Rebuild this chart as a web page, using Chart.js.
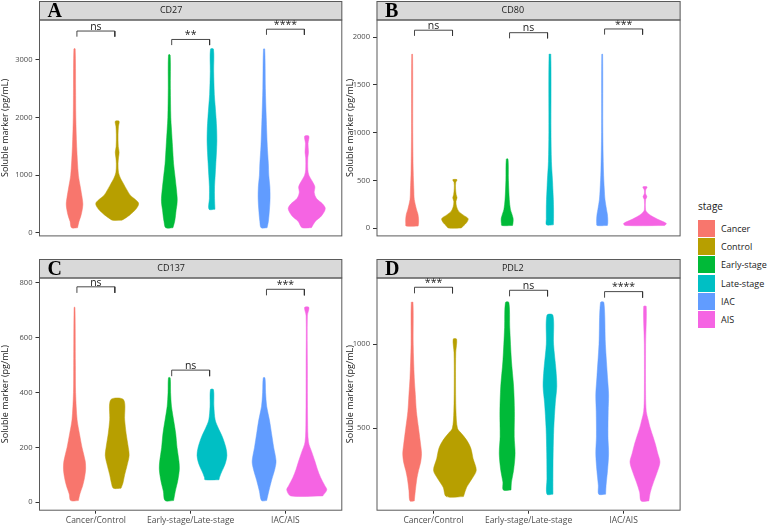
<!DOCTYPE html>
<html>
<head>
<meta charset="utf-8">
<script src="https://cdn.jsdelivr.net/npm/chart.js@4.4.1/dist/chart.umd.min.js"></script>
<style>
  body { margin: 0; background: #fff; width: 767px; height: 526px; position: relative; overflow: hidden; font-family: "Open Sans", sans-serif; }
  canvas { position: absolute; }
  #legend { position: absolute; left: 698px; top: 199px; color: #1a1a1a; }
  #legend .ttl { font-size: 10px; height: 20px; }
  #legend .row { height: 18.3px; display: flex; align-items: center; font-size: 9px; }
  #legend .key { width: 17px; height: 17px; margin-right: 6px; }
</style>
</head>
<body>
<canvas id="cA" width="345" height="256" style="left:0;top:0"></canvas>
<canvas id="cB" width="338" height="256" style="left:345px;top:0"></canvas>
<canvas id="cC" width="345" height="270" style="left:0;top:256px"></canvas>
<canvas id="cD" width="338" height="270" style="left:345px;top:256px"></canvas>
<div id="legend"></div>
<script>
"use strict";

// categories and groups
const categories = ["Cancer/Control", "Early-stage/Late-stage", "IAC/AIS"];
const stages = ["Cancer", "Control", "Early-stage", "Late-stage", "IAC", "AIS"];
const stageColors = ["#F8766D", "#B79F00", "#00BA38", "#00BFC4", "#619CFF", "#F564E3"];

// CD27 : violin outlines (value levels and relative half-widths), per stage
const cd27Y = [
  [90, 200, 300, 400, 500, 600, 800, 1000, 1500, 2000, 2500, 3190],
  [221, 260, 320, 400, 470, 520, 580, 650, 750, 850, 950, 1050, 1200, 1300, 1400, 1500, 1700, 1850, 1935],
  [90, 200, 300, 400, 500, 600, 800, 1000, 1200, 1500, 1800, 2000, 2500, 3084],
  [410, 600, 800, 1000, 1200, 1400, 1600, 1800, 2000, 2200, 2400, 2800, 3186],
  [90, 200, 400, 600, 800, 1000, 1200, 1500, 2000, 2500, 3186],
  [92, 200, 300, 420, 500, 600, 700, 800, 900, 1000, 1100, 1300, 1400, 1550, 1677]
];
const cd27W = [
  [0.14, 0.21, 0.30, 0.36, 0.39, 0.36, 0.27, 0.18, 0.10, 0.06, 0.05, 0.03],
  [0.22, 0.40, 0.62, 0.85, 0.98, 1.0, 0.85, 0.62, 0.45, 0.30, 0.15, 0.06, 0.04, 0.06, 0.09, 0.05, 0.04, 0.06, 0.09],
  [0.17, 0.25, 0.29, 0.32, 0.36, 0.37, 0.32, 0.26, 0.20, 0.15, 0.10, 0.07, 0.05, 0.04],
  [0.14, 0.12, 0.12, 0.15, 0.18, 0.21, 0.23, 0.22, 0.19, 0.15, 0.11, 0.08, 0.07],
  [0.14, 0.20, 0.25, 0.28, 0.27, 0.22, 0.20, 0.15, 0.10, 0.06, 0.03],
  [0.22, 0.40, 0.70, 0.87, 0.75, 0.45, 0.35, 0.38, 0.25, 0.10, 0.05, 0.05, 0.08, 0.06, 0.10]
];
const cd27Ticks = [0, 1000, 2000, 3000];
const cd27Sig = ["ns", "**", "****"];
const cd27SigY = [3499, 3353, 3531];

// CD80
const cd80Y = [
  [23, 50, 100, 150, 200, 300, 400, 600, 1000, 1820],
  [3, 30, 60, 100, 140, 176, 225, 280, 320, 350, 420, 480, 508],
  [29, 50, 100, 150, 200, 300, 500, 723],
  [36, 100, 200, 300, 400, 500, 700, 1000, 1820],
  [29, 50, 100, 150, 200, 300, 400, 600, 1000, 1820],
  [29, 50, 94, 130, 160, 190, 300, 330, 360, 400, 433]
];
const cd80W = [
  [0.28, 0.30, 0.30, 0.27, 0.20, 0.10, 0.08, 0.05, 0.03, 0.02],
  [0.30, 0.42, 0.55, 0.62, 0.38, 0.18, 0.08, 0.05, 0.10, 0.06, 0.03, 0.04, 0.10],
  [0.25, 0.27, 0.28, 0.22, 0.15, 0.10, 0.06, 0.04],
  [0.16, 0.17, 0.17, 0.16, 0.14, 0.12, 0.07, 0.05, 0.04],
  [0.24, 0.26, 0.26, 0.24, 0.20, 0.13, 0.10, 0.06, 0.03, 0.02],
  [0.92, 1.0, 0.60, 0.30, 0.12, 0.03, 0.03, 0.09, 0.03, 0.03, 0.10]
];
const cd80Ticks = [0, 500, 1000, 1500, 2000];
const cd80Sig = ["ns", "ns", "***"];
const cd80SigY = [2072, 2046, 2085];

// CD137
const cd137Y = [
  [6, 30, 60, 90, 120, 150, 200, 250, 300, 400, 500, 711],
  [51, 70, 100, 130, 170, 200, 250, 300, 374],
  [6, 40, 80, 120, 150, 200, 250, 300, 350, 400, 454],
  [82, 90, 110, 140, 170, 200, 240, 270, 300, 350, 411],
  [6, 40, 80, 120, 150, 200, 250, 300, 350, 400, 454],
  [23, 45, 60, 90, 120, 150, 180, 220, 300, 500, 680, 711]
];
const cd137W = [
  [0.18, 0.25, 0.38, 0.47, 0.52, 0.50, 0.35, 0.23, 0.12, 0.05, 0.04, 0.02],
  [0.18, 0.27, 0.35, 0.45, 0.56, 0.52, 0.42, 0.35, 0.30],
  [0.20, 0.28, 0.40, 0.47, 0.45, 0.36, 0.30, 0.20, 0.10, 0.06, 0.04],
  [0.33, 0.35, 0.45, 0.62, 0.70, 0.65, 0.48, 0.30, 0.15, 0.09, 0.07],
  [0.12, 0.22, 0.35, 0.50, 0.56, 0.45, 0.35, 0.25, 0.12, 0.07, 0.04],
  [0.75, 0.94, 0.85, 0.65, 0.50, 0.38, 0.25, 0.08, 0.04, 0.03, 0.03, 0.10]
];
const cd137Ticks = [0, 200, 400, 600, 800];
const cd137Sig = ["ns", "ns", "***"];
const cd137SigY = [786, 482, 777];

// PDL2
const pdl2Y = [
  [68, 130, 200, 250, 300, 350, 400, 500, 600, 700, 800, 1000, 1249],
  [94, 150, 200, 250, 320, 380, 430, 470, 500, 600, 800, 950, 1030],
  [133, 180, 250, 350, 450, 600, 750, 900, 1100, 1249],
  [108, 200, 350, 500, 650, 750, 850, 1000, 1173],
  [108, 160, 250, 350, 450, 600, 700, 800, 1000, 1249],
  [68, 120, 180, 250, 300, 350, 400, 450, 500, 550, 600, 700, 1000, 1225]
];
const pdl2W = [
  [0.10, 0.15, 0.22, 0.30, 0.40, 0.44, 0.40, 0.30, 0.20, 0.15, 0.10, 0.05, 0.04],
  [0.40, 0.55, 0.80, 1.0, 0.85, 0.75, 0.55, 0.30, 0.12, 0.05, 0.03, 0.04, 0.08],
  [0.18, 0.20, 0.30, 0.37, 0.33, 0.34, 0.30, 0.20, 0.12, 0.08],
  [0.14, 0.14, 0.15, 0.18, 0.25, 0.32, 0.28, 0.17, 0.14],
  [0.16, 0.18, 0.25, 0.30, 0.27, 0.28, 0.30, 0.25, 0.15, 0.08],
  [0.18, 0.25, 0.40, 0.60, 0.70, 0.60, 0.50, 0.38, 0.25, 0.15, 0.06, 0.03, 0.03, 0.06]
];
const pdl2Ticks = [500, 1000];
const pdl2Sig = ["***", "ns", "****"];
const pdl2SigY = [1339, 1321, 1313];

Chart.defaults.font.family = "'Open Sans', sans-serif";
Chart.defaults.animation = false;

const DODGE = 0.225;    // offset of each violin from its category
const HALF = 0.225;     // half-width of the widest violin, x units
const BRACKET = 0.2;

// panel layout
const panels = [
  { id: "cA", letter: "A", name: "CD27", Y: cd27Y, W: cd27W, ticks: cd27Ticks, sig: cd27Sig, sigY: cd27SigY,
    yMin: -60, yMax: 3699, axisW: 39, padR: 2.7, padB: 4.3, stripTop: 1, showX: false },
  { id: "cB", letter: "B", name: "CD80", Y: cd80Y, W: cd80W, ticks: cd80Ticks, sig: cd80Sig, sigY: cd80SigY,
    yMin: -85, yMax: 2184, axisW: 31.5, padR: 2.4, padB: 4.3, stripTop: 1, showX: false },
  { id: "cC", letter: "C", name: "CD137", Y: cd137Y, W: cd137W, ticks: cd137Ticks, sig: cd137Sig, sigY: cd137SigY,
    yMin: -31, yMax: 820, axisW: 39, padR: 2.7, padB: 0, stripTop: 3, showX: true },
  { id: "cD", letter: "D", name: "PDL2", Y: pdl2Y, W: pdl2W, ticks: pdl2Ticks, sig: pdl2Sig, sigY: pdl2SigY,
    yMin: 10, yMax: 1397, axisW: 31.5, padR: 2.4, padB: 0, stripTop: 3, showX: true }
];

const panelDecor = {
  id: "panelDecor",
  beforeDraw(chart, args, opts) {
    const { ctx, chartArea: a } = chart;
    ctx.save();
    ctx.fillStyle = "#d9d9d9";
    ctx.strokeStyle = "#5a5a5a";
    ctx.lineWidth = 1;
    ctx.fillRect(a.left, opts.stripTop, a.right - a.left, a.top - opts.stripTop);
    ctx.strokeRect(a.left + 0.5, opts.stripTop + 0.5, a.right - a.left - 1, a.top - opts.stripTop);
    ctx.restore();
  },
  afterDatasetsDraw(chart, args, opts) {
    const { ctx, scales } = chart;
    ctx.save();
    ctx.fillStyle = "#222";
    ctx.font = "10.5px 'Open Sans', sans-serif";
    ctx.textAlign = "center";
    ctx.textBaseline = "bottom";
    opts.sig.forEach((s, i) => {
      ctx.fillText(s, scales.x.getPixelForValue(i + 1), scales.y.getPixelForValue(opts.sigY[i]) + 1);
    });
    ctx.restore();
  },
  afterDraw(chart, args, opts) {
    const { ctx, chartArea: a } = chart;
    ctx.save();
    ctx.strokeStyle = "#5a5a5a";
    ctx.lineWidth = 1;
    ctx.strokeRect(a.left + 0.5, a.top + 0.5, a.right - a.left - 1, a.bottom - a.top - 1);
    ctx.fillStyle = "#000";
    ctx.font = "bold 20px 'Liberation Serif', serif";
    ctx.textAlign = "left";
    ctx.textBaseline = "alphabetic";
    ctx.fillText(opts.letter, a.left + 8.5, a.top - 2.5);
    ctx.restore();
  }
};

function violinDatasets(p) {
  const sets = [];
  p.Y.forEach((levels, s) => {
    const cat = Math.floor(s / 2) + 1;
    const cx = cat + (s % 2 === 0 ? -DODGE : DODGE);
    const w = p.W[s];
    const pts = [];
    for (let i = 0; i < levels.length; i++) pts.push({ x: cx + w[i] * HALF, y: levels[i] });
    for (let i = levels.length - 1; i >= 0; i--) pts.push({ x: cx - w[i] * HALF, y: levels[i] });
    pts.push(pts[0]);
    sets.push({
      label: stages[s],
      data: pts,
      showLine: true,
      fill: "shape",
      backgroundColor: stageColors[s],
      borderColor: stageColors[s],
      borderWidth: 0.5,
      pointRadius: 0,
      tension: 0.3
    });
  });
  const range = p.yMax - p.yMin;
  p.sigY.forEach((y, i) => {
    const tip = y - 0.026 * range;
    sets.push({
      label: "bracket" + i,
      data: [
        { x: i + 1 - BRACKET, y: tip }, { x: i + 1 - BRACKET, y: y },
        { x: i + 1 + BRACKET, y: y }, { x: i + 1 + BRACKET, y: tip }
      ],
      showLine: true,
      fill: false,
      borderColor: "#333",
      borderWidth: 0.9,
      pointRadius: 0,
      tension: 0
    });
  });
  return sets;
}

panels.forEach((p) => {
  new Chart(document.getElementById(p.id), {
    type: "scatter",
    data: { datasets: violinDatasets(p) },
    plugins: [panelDecor],
    options: {
      responsive: false,
      layout: { padding: { left: 0, right: p.padR, top: 0, bottom: p.padB } },
      scales: {
        x: {
          type: "linear",
          min: 0.4,
          max: 3.6,
          display: p.showX,
          afterBuildTicks: (scale) => { scale.ticks = categories.map((c, i) => ({ value: i + 1 })); },
          afterFit: (scale) => {
            scale.height = 15.3;
            scale.paddingLeft = 0; scale.paddingRight = 0;
          },
          border: { display: false },
          grid: { drawOnChartArea: false, drawTicks: true, tickLength: 3, color: "#333" },
          ticks: {
            autoSkip: false, maxRotation: 0, padding: 1.5, color: "#4d4d4d",
            font: { size: 8.5 },
            callback: (v) => categories[v - 1]
          }
        },
        y: {
          min: p.yMin,
          max: p.yMax,
          afterBuildTicks: (scale) => { scale.ticks = p.ticks.map((v) => ({ value: v })); },
          afterFit: (scale) => {
            scale.width = p.axisW;
            scale.paddingTop = 0; scale.paddingBottom = 0;
          },
          border: { display: false },
          grid: { drawOnChartArea: false, drawTicks: true, tickLength: 3.5, color: "#333" },
          ticks: { padding: 3, color: "#4d4d4d", font: { size: 7.6 }, callback: (v) => String(v) },
          title: {
            display: true,
            text: "Soluble marker (pg/mL)",
            color: "#1a1a1a",
            font: { size: 9, lineHeight: 1 },
            padding: { top: 0.5, bottom: 0 }
          }
        }
      },
      plugins: {
        legend: { display: false },
        tooltip: { enabled: false },
        title: {
          display: true,
          text: p.name,
          color: "#1a1a1a",
          font: { size: 9, weight: "normal", lineHeight: 1.3333 },
          padding: { top: p.stripTop + 3, bottom: 3.5 }
        },
        panelDecor: { letter: p.letter, stripTop: p.stripTop, sig: p.sig, sigY: p.sigY }
      }
    }
  });
});

// legend
const legendEl = document.getElementById("legend");
let html = '<div class="ttl">stage</div>';
stages.forEach((s, i) => {
  html += '<div class="row"><div class="key" style="background:' + stageColors[i] + '"></div>' + s + "</div>";
});
legendEl.innerHTML = html;
</script>
</body>
</html>
